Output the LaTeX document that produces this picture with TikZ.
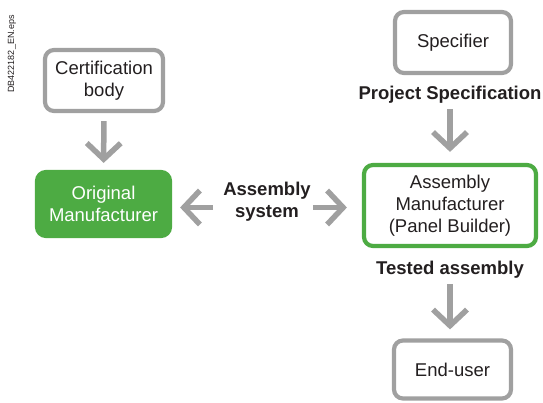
\documentclass[tikz,border=0pt]{standalone}
\usepackage{fontspec}
\setmainfont{Liberation Sans}
\usetikzlibrary{arrows.meta}
\definecolor{flowgray}{RGB}{160,160,160}
\definecolor{flowgreen}{RGB}{77,171,67}
\definecolor{flowtext}{RGB}{35,31,32}
\tikzset{
  box/.style={draw=flowgray,line width=4.2pt,rounded corners=9pt,fill=white,
    align=center,text=flowtext,font=\fontsize{18.5}{22}\selectfont,inner sep=0pt},
  flow/.style={draw=flowgray,line width=5.5pt,-{Straight Barb[length=16pt,width=34pt]}},
  tag/.style={align=center,text=flowtext,inner sep=0pt,
    font=\fontsize{18.5}{22}\selectfont\bfseries}
}
\begin{document}
\begin{tikzpicture}[x=1pt,y=-1pt]
    \useasboundingbox (0,0) rectangle (543,403);
    % Places
    \coordinate (C) at (104,80.5);
    \coordinate (O) at (103.5,204);
    \coordinate (A) at (450,205.5);
    \coordinate (S) at (453,42.5);
    \coordinate (E) at (452.5,369.5);

    % Boxes
    \node[box,minimum width=118pt,minimum height=61pt] (cert) at (C) {Certification\\body};
    \node[box,draw=flowgreen,fill=flowgreen,text=white,minimum width=133pt,minimum height=64pt] (orig) at (O) {Original\\Manufacturer};
    \node[box,draw=flowgreen,minimum width=172pt,minimum height=81pt] (am) at (A) {Assembly\\Manufacturer\\(Panel Builder)};
    \node[box,minimum width=116pt,minimum height=61pt] (spec) at (S) {Specifier};
    \node[box,minimum width=117pt,minimum height=58pt] (user) at (E) {End-user};

    % Labels
    \node[tag] (sys) at (267,202) {Assembly\\system};
    \node[tag] (prj) at (450,95) {Project Specification};
    \node[tag] (tst) at (450,270) {Tested assembly};

    % Arrows
    \draw[flow,shorten <=8pt,shorten >=7pt] (cert) -- (orig);
    \draw[flow,shorten <=10pt,shorten >=8pt] ([yshift=-5.5pt]sys.west) -- ([yshift=-5.5pt]sys.west -| orig.east);
    \draw[flow,shorten <=2pt,shorten >=15pt] ([yshift=-5.5pt]sys.east) -- ([yshift=-5.5pt]sys.east -| am.west);
    \draw[flow,shorten <=5pt,shorten >=11pt] (prj) -- (prj |- am.north);
    \draw[flow,shorten <=5pt,shorten >=9pt] (tst) -- (tst |- user.north);

    % File tag
    \node[rotate=90,text=flowtext,font=\fontsize{9}{10}\selectfont,inner sep=0pt] (file) at (12,54) {DB422182\_EN.eps};
\end{tikzpicture}
\end{document}
